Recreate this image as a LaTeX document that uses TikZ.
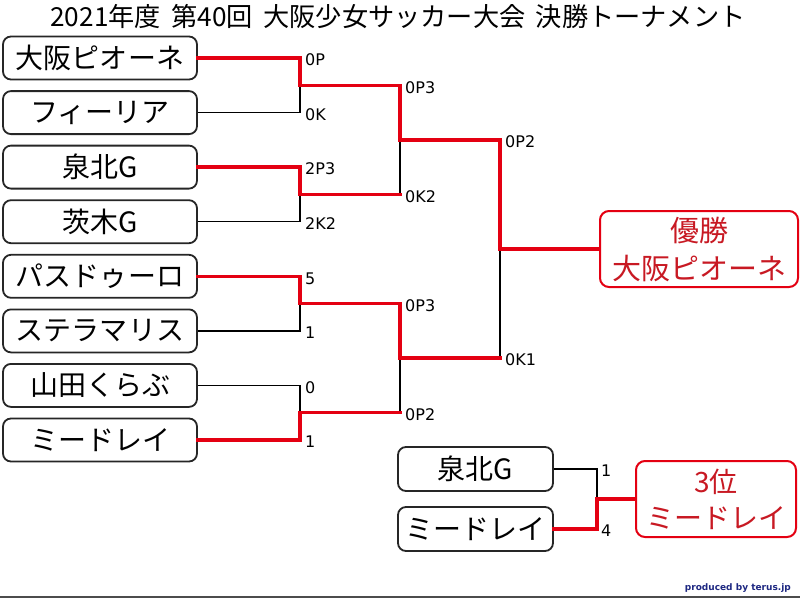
\documentclass[tikz,border=0pt]{standalone}
\usepackage{fontspec}
\setmainfont{Noto Sans CJK JP}
\newfontfamily\labfont{DejaVu Sans}
\definecolor{winred}{RGB}{228,0,18}
\definecolor{boxred}{RGB}{200,25,35}
\definecolor{credit}{RGB}{30,40,130}
\begin{document}
\begin{tikzpicture}[x=1pt,y=-1pt,
  team/.style={draw=black!85, line width=1.8pt, rounded corners=8pt, minimum width=194pt, minimum height=43pt, inner sep=0pt, font=\fontsize{28}{30}\selectfont},
  small/.style={team, minimum width=155pt, minimum height=44pt},
  lose/.style={draw=black, line width=1.5pt},
  win/.style={draw=winred, line width=3.5pt, line cap=rect},
  score/.style={anchor=west, inner sep=0pt, font=\labfont\fontsize{16}{16}\selectfont},
  result/.style={draw=winred, line width=2pt, rounded corners=9pt, text=boxred, align=center, inner sep=0pt}]
\fill[white] (0,0) rectangle (800,598);
\useasboundingbox (0,0) rectangle (800,598);
% title
\node[inner sep=0pt, font={\fontsize{26.2}{30}\selectfont\spaceskip=0.4em\relax}] (title) at (398,17) {2021年度 第40回 大阪少女サッカー大会 決勝トーナメント};
% teams
\node[team] (t1) at (100,58) {大阪ピオーネ};
\node[team] (t2) at (100,112.6) {フィーリア};
\node[team] (t3) at (100,167.1) {泉北G};
\node[team] (t4) at (100,221.7) {茨木G};
\node[team] (t5) at (100,276.3) {パスドゥーロ};
\node[team] (t6) at (100,330.9) {ステラマリス};
\node[team] (t7) at (100,385.4) {山田くらぶ};
\node[team] (t8) at (100,440) {ミードレイ};
% results
\node[result, minimum width=198pt, minimum height=76pt, font=\fontsize{29}{38}\selectfont] (champ) at (699,249) {優勝\\大阪ピオーネ};
\node[small] (s1) at (475.5,469) {泉北G};
\node[small] (s2) at (475.5,529) {ミードレイ};
\node[result, minimum width=160pt, minimum height=76pt, font=\fontsize{28}{36}\selectfont] (third) at (716,499) {3位\\ミードレイ};
% junctions
\coordinate (m1) at (300,85.3);
\coordinate (m2) at (300,194.4);
\coordinate (m3) at (300,303.6);
\coordinate (m4) at (300,412.7);
\coordinate (n1) at (400,139.9);
\coordinate (n2) at (400,358.1);
\coordinate (f) at (500,249);
\coordinate (q) at (597,499);
% losing lines
\draw[lose] (t2.east) -| (m1);
\draw[lose] (t4.east) -| (m2);
\draw[lose] (t6.east) -| (m3);
\draw[lose] (t7.east) -| (m4);
\draw[lose] (m2 -| n1) -- (n1);
\draw[lose] (m4 -| n2) -- (n2);
\draw[lose] (n2 -| f) -- (f);
\draw[lose] (s1.east) -| (q);
% winning lines
\draw[win] (t1.east) -| (m1) -| (n1) -| (f) -- (champ.west);
\draw[win] (t3.east) -| (m2) -- (m2 -| n1);
\draw[win] (t5.east) -| (m3) -| (n2) -- (n2 -| f);
\draw[win] (t8.east) -| (m4) -- (m4 -| n2);
\draw[win] (s2.east) -| (q) -- (third.west);
% scores
\node[score] (a1) at (305,60) {0P};
\node[score] (a2) at (305,114.6) {0K};
\node[score] (a3) at (305,169.1) {2P3};
\node[score] (a4) at (305,223.7) {2K2};
\node[score] (a5) at (305,278.3) {5};
\node[score] (a6) at (305,332.9) {1};
\node[score] (a7) at (305,387.4) {0};
\node[score] (a8) at (305,442) {1};
\node[score] (b1) at (405,87.3) {0P3};
\node[score] (b2) at (405,196.4) {0K2};
\node[score] (b3) at (405,305.6) {0P3};
\node[score] (b4) at (405,414.7) {0P2};
\node[score] (c1) at (505,141.9) {0P2};
\node[score] (c2) at (505,360.1) {0K1};
\node[score] (d1) at (601,471) {1};
\node[score] (d2) at (601,531) {4};
% credit
\node[anchor=east, inner sep=0pt, text=credit, font=\labfont\bfseries\fontsize{9}{9}\selectfont] (cr) at (791,588) {produced by terus.jp};
\draw[line width=2pt, black!70] (0,597) -- (800,597);
\end{tikzpicture}
\end{document}
